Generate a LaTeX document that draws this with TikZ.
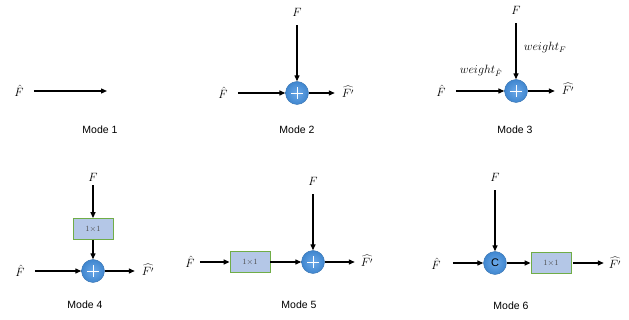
\documentclass[tikz,border=0pt]{standalone}
\usepackage{fontspec}
\setsansfont{Liberation Sans}
\usetikzlibrary{arrows.meta}
\definecolor{addblue}{HTML}{3F86CF}
\definecolor{addlight}{HTML}{6BA8E8}
\definecolor{convfill}{HTML}{B4C7E7}
\definecolor{convedge}{HTML}{70AD47}
\tikzset{
  flow/.style={line width=1.3pt, -{Triangle[length=6pt,width=5pt]}},
  opnode/.style={circle, minimum size=23pt, inner sep=0pt, draw=addblue!85!black, line width=0.4pt,
    inner color=addlight, outer color=addblue},
  convbox/.style={rectangle, minimum width=40pt, minimum height=21pt, inner sep=0pt,
    fill=convfill, draw=convedge, line width=0.8pt, font=\fontsize{8}{9}\selectfont, text=black!70},
  lbl/.style={font=\fontsize{11.5}{13}\selectfont, inner sep=1pt},
  modecap/.style={font=\sffamily\fontsize{10.5}{12}\selectfont},
}
\newcommand{\plusmark}[1]{%
  \draw[white, line width=0.8pt] ([xshift=-6pt]#1.center) -- ([xshift=6pt]#1.center)
    ([yshift=-6pt]#1.center) -- ([yshift=6pt]#1.center);}
\begin{document}
\begin{tikzpicture}[x=1pt, y=-1pt]
\useasboundingbox (0,0) rectangle (629,320);

% Mode 1: identity
\node[lbl] (a1) at (19,91) {$\hat{F}$};
\coordinate (a1e) at (107,91);
\draw[flow] ([xshift=9pt]a1.east |- a1e) -- (a1e);
\node[modecap] (m1) at (100,130) {Mode 1};

% Mode 2: plain addition
\node[lbl] (b2) at (297,12) {$F$};
\node[opnode] (s2) at (297,93) {};
\plusmark{s2}
\node[lbl] (a2) at (223,93) {$\hat{F}$};
\node[lbl] (o2) at (348,92) {$\widehat{F'}$};
\draw[flow] ([yshift=-8pt]b2.south) -- (s2.north);
\draw[flow] ([xshift=9pt]a2.east |- s2) -- (s2.west);
\draw[flow] (s2.east) -- ([xshift=-6pt]o2.west |- s2);
\node[modecap] (m2) at (297,130) {Mode 2};

% Mode 3: weighted addition
\node[lbl] (b3) at (516,10) {$F$};
\node[opnode] (s3) at (516,91) {};
\plusmark{s3}
\node[lbl] (a3) at (441,91) {$\hat{F}$};
\node[lbl] (o3) at (568,89) {$\widehat{F'}$};
\draw[flow] ([yshift=-8pt]b3.south) -- (s3.north);
\draw[flow] ([xshift=9pt]a3.east |- s3) -- (s3.west);
\draw[flow] (s3.east) -- ([xshift=-6pt]o3.west |- s3);
\node[lbl] (w3b) at (545,48) {$weight_F$};
\node[lbl] (w3a) at (481,71) {$weight_{\hat{F}}$};
\node[modecap] (m3) at (515,130) {Mode 3};

% Mode 4: 1x1 conv on F, then addition
\node[lbl] (b4) at (93,177) {$F$};
\node[convbox] (c4) at (93,229) {1$\times$1};
\node[opnode] (s4) at (93,271) {};
\plusmark{s4}
\node[lbl] (a4) at (20,271) {$\hat{F}$};
\node[lbl] (o4) at (148,270) {$\widehat{F'}$};
\draw[flow] ([yshift=-3pt]b4.south) -- (c4.north);
\draw[flow] (c4.south) -- (s4.north);
\draw[flow] ([xshift=9pt]a4.east |- s4) -- (s4.west);
\draw[flow] (s4.east) -- ([xshift=-6pt]o4.west |- s4);
\node[modecap] (m4) at (85,305) {Mode 4};

% Mode 5: 1x1 conv on F-hat, then addition
\node[lbl] (b5) at (313,181) {$F$};
\node[convbox] (c5) at (250,262) {1$\times$1};
\node[opnode] (s5) at (313,262) {};
\plusmark{s5}
\node[lbl] (a5) at (190,262) {$\hat{F}$};
\node[lbl] (o5) at (367,261) {$\widehat{F'}$};
\draw[flow] ([yshift=-8pt]b5.south) -- (s5.north);
\draw[flow] ([xshift=4pt]a5.east |- c5) -- (c5.west);
\draw[flow] (c5.east) -- (s5.west);
\draw[flow] (s5.east) -- ([xshift=-5pt]o5.west |- s5);
\node[modecap] (m5) at (299,305) {Mode 5};

% Mode 6: concatenation, then 1x1 conv
\node[lbl] (b6) at (495,177) {$F$};
\node[opnode] (s6) at (495,263) {\sffamily\fontsize{11}{12}\selectfont C};
\node[convbox] (c6) at (551,263) {1$\times$1};
\node[lbl] (a6) at (436,264) {$\hat{F}$};
\node[lbl] (o6) at (615,263) {$\widehat{F'}$};
\draw[flow] ([xshift=11pt]a6.east |- s6) -- (s6.west);
\draw[flow] ([yshift=-8pt]b6.south) -- (s6.north);
\draw[flow] (s6.east) -- (c6.west);
\draw[flow] ([xshift=2pt]c6.east) -- ([xshift=-4pt]o6.west |- c6);
\node[modecap] (m6) at (511,306) {Mode 6};
\end{tikzpicture}
\end{document}
